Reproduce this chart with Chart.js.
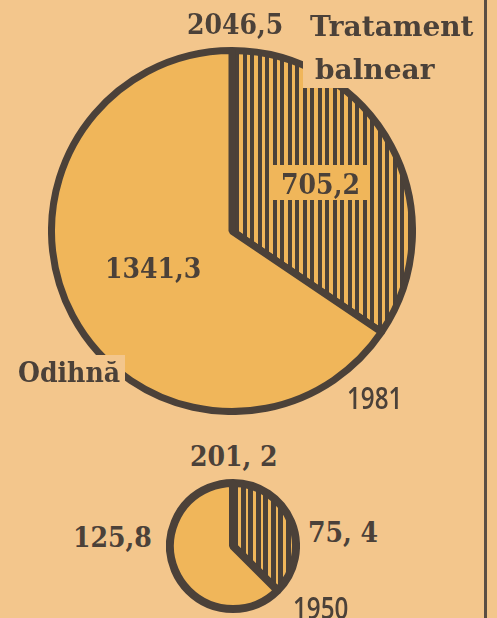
<!DOCTYPE html>
<html>
<head>
<meta charset="utf-8">
<script src="https://cdn.jsdelivr.net/npm/chart.js"></script>
<style>
  html, body { margin: 0; padding: 0; background: #f3c68c; }
  #hoja { position: relative; width: 497px; height: 618px; overflow: hidden; background: #f3c68c; }
  canvas { position: absolute; }
  .lbl { position: absolute; white-space: nowrap; color: #4b4139; line-height: 1;
         font-family: 'DejaVu Serif Condensed', 'DejaVu Serif', serif; font-stretch: condensed;
         font-weight: bold; font-size: 28px; }
  .palabra { position: absolute; white-space: nowrap; color: #4b4139; line-height: 1;
         font-family: 'DejaVu Serif', serif; font-weight: bold; font-size: 28px; }
  .anio { position: absolute; white-space: nowrap; color: #4b4139; line-height: 1;
          font-family: 'Open Sans', sans-serif; font-weight: 600; font-size: 31px;
          transform: scaleX(0.78); transform-origin: 0 0; }
  #linea { position: absolute; left: 484px; top: 0; width: 3px; height: 618px; background: #5a4e43; }
</style>
</head>
<body>
<div id="hoja">
  <canvas id="pie1981" width="368" height="368" style="left:48px; top:47px;"></canvas>
  <canvas id="pie1950" width="134" height="134" style="left:166px; top:479px;"></canvas>
  <div id="linea"></div>
</div>
<script>
const categorias = ['Tratament balnear', 'Odihnă'];
const valores1981 = [705.2, 1341.3];
const valores1950 = [75.4, 125.8];
const etiquetas1981 = ['705,2', '1341,3'];
const etiquetas1950 = ['75, 4', '125,8'];
const totales = ['2046,5', '201, 2'];
const anios = ['1981', '1950'];

const TINTA = '#4b4139';
const NARANJA = '#f0b65a';
const FONDO = '#f3c68c';

// rayado vertical para "Tratament balnear"
function crearRayado(oscuro1, claro1, oscuro2, claro2) {
    const ancho = oscuro1 + claro1 + oscuro2 + claro2;
    const c = document.createElement('canvas');
    c.width = ancho;
    c.height = 4;
    const g = c.getContext('2d');
    g.fillStyle = NARANJA;
    g.fillRect(0, 0, ancho, 4);
    g.fillStyle = TINTA;
    g.fillRect(0, 0, oscuro1, 4);
    g.fillRect(oscuro1 + claro1, 0, oscuro2, 4);
    return g.createPattern(c, 'repeat');
}

function dibujarPastel(id, valores, grosor, rayado) {
    const ctx = document.getElementById(id).getContext('2d');
    return new Chart(ctx, {
        type: 'pie',
        data: {
            labels: categorias,
            datasets: [{
                data: valores,
                backgroundColor: [rayado, NARANJA],
                borderColor: TINTA,
                borderWidth: grosor,
            }],
        },
        options: {
            responsive: false,
            animation: false,
            events: [],
            layout: { padding: 0 },
            plugins: {
                legend: { display: false },
                tooltip: { enabled: false },
            }
        }
    });
}

dibujarPastel('pie1981', valores1981, 7, crearRayado(4, 3, 4, 4));
dibujarPastel('pie1950', valores1950, 8, crearRayado(5, 2, 5, 3));

function ponerTexto(texto, x, y, clase, extra) {
    const d = document.createElement('div');
    d.className = clase;
    d.textContent = texto;
    d.style.left = x + 'px';
    d.style.top = y + 'px';
    if (extra) Object.assign(d.style, extra);
    document.getElementById('hoja').appendChild(d);
    return d;
}

// caja que tapa el pastel bajo el título de la serie
const caja = document.createElement('div');
Object.assign(caja.style, { position: 'absolute', left: '303px', top: '0px', width: '179px', height: '88px', background: FONDO });
document.getElementById('hoja').appendChild(caja);

const partes = categorias[0].split(' ');
ponerTexto(totales[0], 187, 11, 'lbl');
ponerTexto(partes[0], 310, 13, 'palabra');
ponerTexto(partes[1], 315, 56, 'palabra');
ponerTexto(etiquetas1981[0], 273, 165, 'lbl', { background: NARANJA, width: '95px', height: '35px', paddingTop: '6px', boxSizing: 'border-box', textAlign: 'center' });
ponerTexto(etiquetas1981[1], 105, 255, 'lbl');
ponerTexto(categorias[1], 14, 355, 'lbl', { background: FONDO, padding: '4px 5px 0 4px' });
ponerTexto(anios[0], 347, 382, 'anio');

ponerTexto(totales[1], 190, 443, 'lbl');
ponerTexto(etiquetas1950[1], 73, 524, 'lbl');
ponerTexto(etiquetas1950[0], 308, 519, 'lbl');
ponerTexto(anios[1], 293, 592, 'anio');
</script>
</body>
</html>
